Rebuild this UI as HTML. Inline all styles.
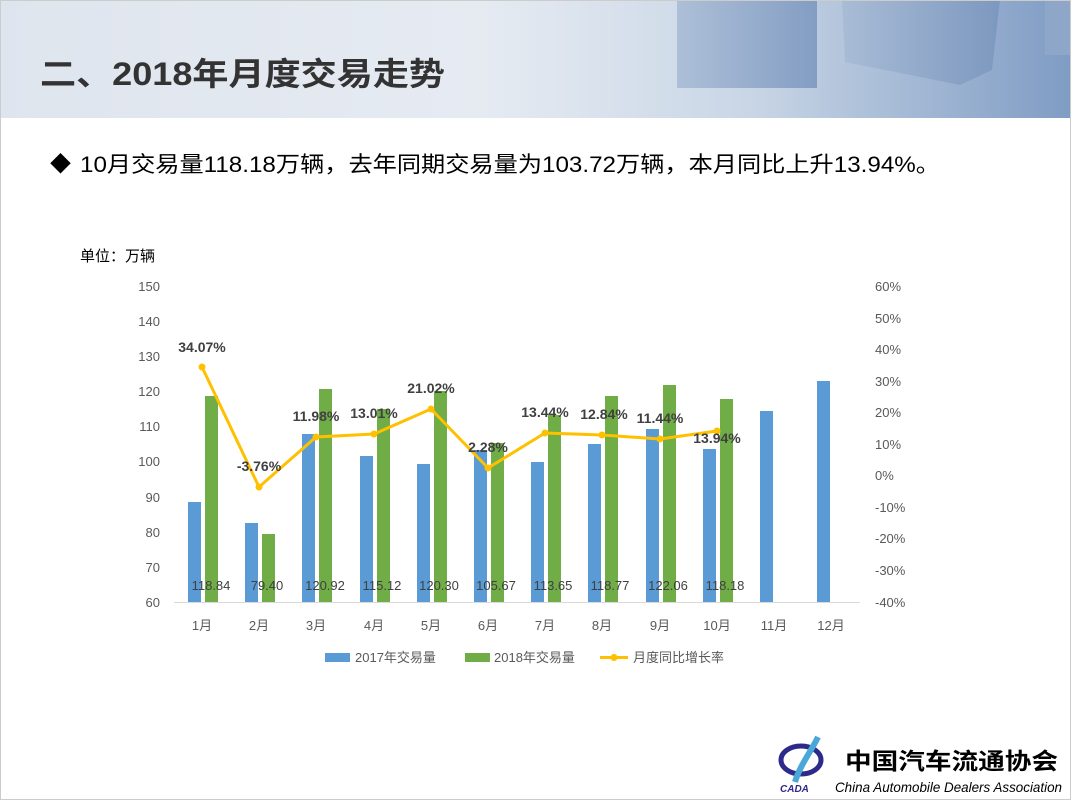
<!DOCTYPE html>
<html><head><meta charset="utf-8"><style>
body{margin:0;width:1071px;height:800px;overflow:hidden;background:#fff;font-family:"Liberation Sans","Noto Sans CJK SC",sans-serif;}
.hdr{position:absolute;left:0;top:0;width:1071px;height:118px;background:linear-gradient(90deg,#dfe5ee 0%,#e6ebf2 45%,#c9d6e6 70%,#7f9cc4 100%);}
</style></head><body>
<div class="hdr"></div>
<svg width="1071" height="800" style="position:absolute;left:0;top:0" font-family="Liberation Sans, Noto Sans CJK SC, sans-serif">
<defs><linearGradient id="cb" x1="0" x2="1"><stop offset="0" stop-color="#a9bcd6"/><stop offset="1" stop-color="#7d98bf"/></linearGradient></defs>
<rect x="677" y="0" width="140" height="88" fill="url(#cb)" opacity="0.9"/>
<polygon points="842,0 1000,0 992,70 960,85 845,62" fill="url(#cb)"/>
<rect x="1045" y="0" width="26" height="55" fill="#8ea7c9"/>
<rect x="0" y="0" width="1071" height="800" fill="none" stroke="#ccc" stroke-width="2"/>
<text x="40" y="85" font-size="32" font-weight="bold" fill="#333" textLength="405" lengthAdjust="spacingAndGlyphs">二、2018年月度交易走势</text>
<text x="50" y="171" font-size="21" fill="#000">◆</text>
<text x="80" y="172" font-size="22" fill="#000" textLength="860" lengthAdjust="spacingAndGlyphs">10月交易量118.18万辆，去年同期交易量为103.72万辆，本月同比上升13.94%。</text>
<text x="80" y="261" font-size="15" fill="#000">单位：万辆</text>
<g font-size="13" fill="#595959" text-anchor="end">
<text x="160" y="291">150</text><text x="160" y="326">140</text><text x="160" y="361">130</text><text x="160" y="396">120</text><text x="160" y="431">110</text><text x="160" y="466">100</text><text x="160" y="502">90</text><text x="160" y="537">80</text><text x="160" y="572">70</text><text x="160" y="607">60</text>
</g>
<g font-size="13" fill="#595959">
<text x="875" y="291">60%</text><text x="875" y="323">50%</text><text x="875" y="354">40%</text><text x="875" y="386">30%</text><text x="875" y="417">20%</text><text x="875" y="449">10%</text><text x="875" y="480">0%</text><text x="875" y="512">-10%</text><text x="875" y="543">-20%</text><text x="875" y="575">-30%</text><text x="875" y="607">-40%</text>
</g>
<line x1="174" y1="602.5" x2="860" y2="602.5" stroke="#d9d9d9"/>
<g fill="#5b9bd5">
<rect x="188" y="502" width="13" height="100"/><rect x="245" y="523" width="13" height="79"/><rect x="302" y="434" width="13" height="168"/><rect x="360" y="456" width="13" height="146"/><rect x="417" y="464" width="13" height="138"/><rect x="474" y="450" width="13" height="152"/><rect x="531" y="462" width="13" height="140"/><rect x="588" y="444" width="13" height="158"/><rect x="646" y="429" width="13" height="173"/><rect x="703" y="449" width="13" height="153"/><rect x="760" y="411" width="13" height="191"/><rect x="817" y="381" width="13" height="221"/>
</g>
<g fill="#70ad47">
<rect x="205" y="396" width="13" height="206"/><rect x="262" y="534" width="13" height="68"/><rect x="319" y="389" width="13" height="213"/><rect x="377" y="409" width="13" height="193"/><rect x="434" y="391" width="13" height="211"/><rect x="491" y="443" width="13" height="159"/><rect x="548" y="415" width="13" height="187"/><rect x="605" y="396" width="13" height="206"/><rect x="663" y="385" width="13" height="217"/><rect x="720" y="399" width="13" height="203"/>
</g>
<g font-size="13" fill="#404040" text-anchor="middle">
<text x="211" y="590">118.84</text><text x="267" y="590">79.40</text><text x="325" y="590">120.92</text><text x="382" y="590">115.12</text><text x="439" y="590">120.30</text><text x="496" y="590">105.67</text><text x="553" y="590">113.65</text><text x="610" y="590">118.77</text><text x="668" y="590">122.06</text><text x="725" y="590">118.18</text>
</g>
<polyline fill="none" stroke="#ffc000" stroke-width="3" points="202,367 259,487 316,437 374,434 431,409 488,468 545,433 602,435 660,439 717,431"/>
<g fill="#ffc000">
<circle cx="202" cy="367" r="3.5"/><circle cx="259" cy="487" r="3.5"/><circle cx="316" cy="437" r="3.5"/><circle cx="374" cy="434" r="3.5"/><circle cx="431" cy="409" r="3.5"/><circle cx="488" cy="468" r="3.5"/><circle cx="545" cy="433" r="3.5"/><circle cx="602" cy="435" r="3.5"/><circle cx="660" cy="439" r="3.5"/><circle cx="717" cy="431" r="3.5"/>
</g>
<g font-size="14" font-weight="bold" fill="#404040" text-anchor="middle">
<text x="202" y="352">34.07%</text><text x="259" y="471">-3.76%</text><text x="316" y="421">11.98%</text><text x="374" y="418">13.01%</text><text x="431" y="393">21.02%</text><text x="488" y="452">2.28%</text><text x="545" y="417">13.44%</text><text x="604" y="419">12.84%</text><text x="660" y="423">11.44%</text><text x="717" y="443">13.94%</text>
</g>
<g font-size="13" fill="#595959" text-anchor="middle">
<text x="202" y="630">1月</text><text x="259" y="630">2月</text><text x="316" y="630">3月</text><text x="374" y="630">4月</text><text x="431" y="630">5月</text><text x="488" y="630">6月</text><text x="545" y="630">7月</text><text x="602" y="630">8月</text><text x="660" y="630">9月</text><text x="717" y="630">10月</text><text x="774" y="630">11月</text><text x="831" y="630">12月</text>
</g>
<rect x="325" y="653" width="25" height="9" fill="#5b9bd5"/><text x="355" y="662" font-size="13" fill="#595959">2017年交易量</text>
<rect x="465" y="653" width="25" height="9" fill="#70ad47"/><text x="494" y="662" font-size="13" fill="#595959">2018年交易量</text>
<line x1="600" y1="657.5" x2="628" y2="657.5" stroke="#ffc000" stroke-width="3"/><circle cx="614" cy="657.5" r="3.5" fill="#ffc000"/>
<text x="633" y="662" font-size="13" fill="#595959">月度同比增长率</text>
<ellipse cx="801" cy="760" rx="20" ry="14" fill="none" stroke="#2e2a8a" stroke-width="5"/>
<path d="M818,737 C812,750 800,765 795,782" stroke="#4aa8d8" stroke-width="6" fill="none"/>
<text x="780" y="792" font-size="10" font-weight="bold" font-style="italic" fill="#2e2a8a">CADA</text>
<text x="845" y="769" font-size="23" font-weight="bold" fill="#000" textLength="213" lengthAdjust="spacingAndGlyphs">中国汽车流通协会</text>
<text x="835" y="792" font-size="14" font-style="italic" fill="#000" textLength="227" lengthAdjust="spacingAndGlyphs">China Automobile Dealers Association</text>
</svg>
</body></html>
